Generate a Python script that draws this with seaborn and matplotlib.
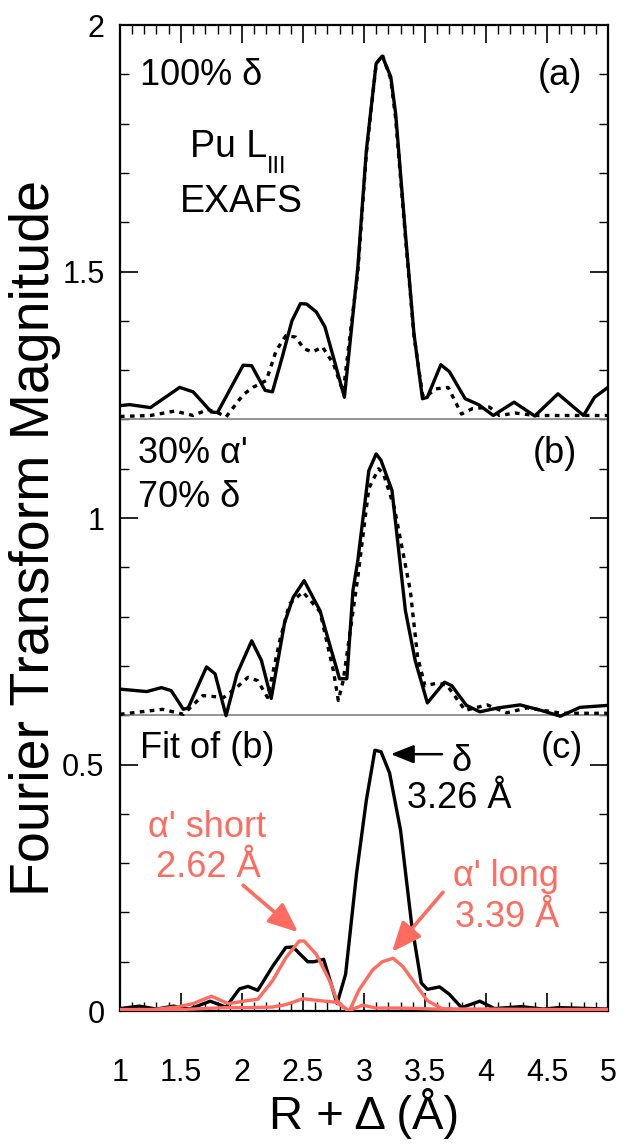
import numpy as np
import pandas as pd
import matplotlib
matplotlib.use("Agg")
import matplotlib.pyplot as plt
from matplotlib.ticker import MultipleLocator
import seaborn as sns

sns.set_theme(style="ticks")
plt.rcParams['font.family'] = ['Liberation Sans', 'DejaVu Sans']
plt.rcParams['text.color'] = 'black'
plt.rcParams['axes.labelcolor'] = 'black'
plt.rcParams['xtick.color'] = 'black'
plt.rcParams['ytick.color'] = 'black'

RED = '#ff6b5f'

# panel (a): 100% delta, data (solid) and fit (dotted)
a_x = [1.0, 1.08, 1.25, 1.49, 1.6, 1.75, 1.8, 2.01, 2.08, 2.19, 2.25, 2.33, 2.41, 2.48, 2.53,
       2.61, 2.68, 2.75, 2.84, 2.95, 3.02, 3.10, 3.15, 3.22, 3.26, 3.34, 3.41, 3.48, 3.52,
       3.63, 3.70, 3.83, 3.94, 4.06, 4.23, 4.40, 4.59, 4.80, 4.89, 5.0]
a_y = [1.228, 1.23, 1.224, 1.265, 1.256, 1.215, 1.214, 1.31, 1.309, 1.259, 1.256, 1.326, 1.40,
       1.435, 1.434, 1.418, 1.388, 1.326, 1.245, 1.509, 1.746, 1.922, 1.937, 1.895, 1.82,
       1.577, 1.374, 1.242, 1.245, 1.311, 1.297, 1.242, 1.23, 1.208, 1.235, 1.207, 1.252,
       1.208, 1.245, 1.265]
a_fit_x = [1.0, 1.25, 1.45, 1.6, 1.72, 1.8, 1.87, 2.01, 2.09, 2.2, 2.28, 2.36, 2.44, 2.51, 2.58,
           2.66, 2.75, 2.83, 2.95, 3.02, 3.10, 3.15, 3.22, 3.26, 3.34, 3.41, 3.48, 3.50, 3.59,
           3.69, 3.80, 3.89, 4.03, 4.11, 4.24, 4.4, 4.6, 4.8, 5.0]
a_fit_y = [1.206, 1.208, 1.217, 1.208, 1.22, 1.214, 1.205, 1.25, 1.265, 1.279, 1.339, 1.37,
           1.367, 1.343, 1.337, 1.347, 1.313, 1.256, 1.50, 1.74, 1.92, 1.94, 1.89, 1.81, 1.57,
           1.37, 1.25, 1.245, 1.262, 1.265, 1.211, 1.222, 1.225, 1.208, 1.213, 1.208, 1.208,
           1.208, 1.208]

# panel (b): 30% alpha' / 70% delta
b_x = [1.0, 1.22, 1.34, 1.42, 1.52, 1.56, 1.71, 1.78, 1.87, 1.96, 2.08, 2.16, 2.24, 2.35, 2.42,
       2.51, 2.64, 2.75, 2.80, 2.86, 2.91, 2.95, 3.04, 3.10, 3.14, 3.23, 3.34, 3.42, 3.52, 3.66,
       3.72, 3.84, 3.95, 4.1, 4.28, 4.45, 4.61, 4.77, 5.0]
b_y = [0.653, 0.648, 0.656, 0.650, 0.612, 0.615, 0.698, 0.684, 0.599, 0.684, 0.751, 0.711,
       0.634, 0.788, 0.839, 0.873, 0.812, 0.717, 0.674, 0.674, 0.853, 0.914, 1.096, 1.13,
       1.117, 1.056, 0.812, 0.711, 0.625, 0.667, 0.66, 0.62, 0.607, 0.615, 0.621, 0.61,
       0.598, 0.616, 0.62]
b_fit_x = [1.0, 1.35, 1.52, 1.68, 1.85, 1.96, 2.05, 2.13, 2.21, 2.31, 2.39, 2.50, 2.64, 2.75,
           2.79, 2.83, 2.95, 3.04, 3.12, 3.16, 3.25, 3.38, 3.44, 3.50, 3.60, 3.68, 3.83, 4.01,
           4.17, 4.34, 4.62, 5.0]
b_fit_y = [0.602, 0.612, 0.602, 0.640, 0.636, 0.657, 0.677, 0.670, 0.636, 0.751, 0.826, 0.85,
           0.81, 0.69, 0.63, 0.67, 0.88, 1.06, 1.10, 1.09, 1.02, 0.853, 0.718, 0.66, 0.665,
           0.661, 0.61, 0.621, 0.605, 0.615, 0.604, 0.604]

# panel (c): fit of (b), shell contributions
c_x = [1.0, 1.16, 1.30, 1.44, 1.57, 1.74, 1.87, 1.98, 2.05, 2.13, 2.25, 2.36, 2.42, 2.47, 2.54,
       2.59, 2.67, 2.78, 2.85, 2.94, 3.02, 3.09, 3.14, 3.21, 3.30, 3.39, 3.47, 3.52, 3.62,
       3.70, 3.80, 3.95, 4.07, 4.29, 4.47, 4.60, 5.0]
c_y = [0.005, 0.01, 0.004, 0.01, 0.004, 0.02, 0.008, 0.045, 0.05, 0.042, 0.09, 0.129, 0.13,
       0.117, 0.10, 0.10, 0.105, 0.015, 0.075, 0.28, 0.428, 0.529, 0.526, 0.483, 0.367,
       0.178, 0.057, 0.044, 0.049, 0.034, 0.007, 0.02, 0.005, 0.009, 0.004, 0.007, 0.004]
short_x = [1.0, 1.27, 1.46, 1.60, 1.75, 1.89, 2.04, 2.13, 2.25, 2.36, 2.47, 2.51, 2.61, 2.72,
           2.78, 2.87, 2.99, 3.10, 3.3, 3.6, 4.0, 4.5, 5.0]
short_y = [0.003, 0.003, 0.008, 0.015, 0.03, 0.015, 0.021, 0.024, 0.061, 0.108, 0.142, 0.142,
           0.115, 0.061, 0.021, 0.0, 0.012, 0.006, 0.006, 0.004, 0.004, 0.003, 0.003]
long_x = [1.0, 1.5, 1.87, 2.06, 2.25, 2.36, 2.50, 2.64, 2.77, 2.88, 2.96, 3.07, 3.15, 3.24,
          3.32, 3.43, 3.52, 3.64, 3.8, 4.2, 5.0]
long_y = [0.003, 0.003, 0.007, 0.007, 0.008, 0.013, 0.025, 0.021, 0.018, 0.0, 0.043, 0.083,
          0.10, 0.107, 0.09, 0.052, 0.021, 0.005, 0.003, 0.003, 0.003]

panel_bounds = [0.6, 1.2]

fig = plt.figure(figsize=(6.31, 11.48), dpi=100)
ax = fig.add_axes([0.190, 0.1193, 0.7735, 0.8589])

for yb in panel_bounds:
    ax.axhline(yb, color='#808080', lw=1.2, zorder=1)

sns.lineplot(x=a_x, y=a_y, ax=ax, color='black', linewidth=2.4, zorder=3)
sns.lineplot(x=a_fit_x, y=a_fit_y, ax=ax, color='black', linewidth=2.4,
             linestyle=(0, (1.4, 1.6)), zorder=3)
sns.lineplot(x=b_x, y=b_y, ax=ax, color='black', linewidth=2.4, zorder=3)
sns.lineplot(x=b_fit_x, y=b_fit_y, ax=ax, color='black', linewidth=2.4,
             linestyle=(0, (1.4, 1.6)), zorder=3)
sns.lineplot(x=c_x, y=c_y, ax=ax, color='black', linewidth=2.4, zorder=3)
sns.lineplot(x=long_x, y=long_y, ax=ax, color=RED, linewidth=2.4, zorder=4)
sns.lineplot(x=short_x, y=short_y, ax=ax, color=RED, linewidth=2.4, zorder=4)

ax.set_xlim(1, 5)
ax.set_ylim(0, 2)
ax.xaxis.set_minor_locator(MultipleLocator(0.1))
ax.yaxis.set_minor_locator(MultipleLocator(0.1))
ax.set_xticks([1, 1.5, 2, 2.5, 3, 3.5, 4, 4.5, 5])
ax.set_xticklabels(['1', '1.5', '2', '2.5', '3', '3.5', '4', '4.5', '5'])
ax.set_yticks([0, 0.5, 1, 1.5, 2])
ax.set_yticklabels(['0', '0.5', '1', '1.5', '2'])
ax.tick_params(which='both', direction='in', top=True, right=True, color='black')
ax.tick_params(which='major', length=13, width=1.2, labelsize=22)
ax.tick_params(which='minor', length=6.5, width=1.0)
ax.tick_params(axis='x', which='major', pad=34)
ax.tick_params(axis='y', which='major', pad=11)
for s in ax.spines.values():
    s.set_linewidth(1.6)
    s.set_color('black')

ax.set_xlabel('R + Δ (Å)', fontsize=34)
ax.xaxis.label.set_va('center')
ax.xaxis.set_label_coords(0.5, -0.104)
ax.set_ylabel('Fourier Transform Magnitude', fontsize=40)
ax.yaxis.label.set_va('center')
ax.yaxis.set_label_coords(-0.174, 0.48)

fs = 26
ax.text(1.164, 1.878, '100% δ', fontsize=fs)
ax.text(4.787, 1.878, '(a)', fontsize=fs, ha='right')
ax.text(1.574, 1.732, 'Pu L', fontsize=27)
ax.text(2.205, 1.700, 'III', fontsize=17)
ax.text(1.49, 1.621, 'EXAFS', fontsize=27)

ax.text(1.148, 1.112, "30% α'", fontsize=fs)
ax.text(1.148, 1.022, '70% δ', fontsize=fs)
ax.text(4.746, 1.112, '(b)', fontsize=fs, ha='right')

ax.text(1.164, 0.513, 'Fit of (b)', fontsize=fs)
ax.text(4.795, 0.513, '(c)', fontsize=fs, ha='right')
ax.text(3.72, 0.487, 'δ', fontsize=fs)
ax.text(3.353, 0.412, '3.26 Å', fontsize=fs)
ax.annotate('', xy=(3.22, 0.521), xytext=(3.64, 0.521),
            arrowprops=dict(arrowstyle='-|>,head_length=0.7,head_width=0.28',
                            color='black', lw=1.8, mutation_scale=20,
                            shrinkA=0, shrinkB=0))

ax.text(1.23, 0.353, "α' short", fontsize=fs, color=RED)
ax.text(1.30, 0.272, '2.62 Å', fontsize=fs, color=RED)
ax.annotate('', xy=(2.46, 0.160), xytext=(2.01, 0.255),
            arrowprops=dict(arrowstyle='-|>,head_length=0.9,head_width=0.38',
                            color=RED, lw=2.6, mutation_scale=20,
                            shrinkA=0, shrinkB=0))

ax.text(3.73, 0.254, "α' long", fontsize=fs, color=RED)
ax.text(3.746, 0.170, '3.39 Å', fontsize=fs, color=RED)
ax.annotate('', xy=(3.23, 0.120), xytext=(3.648, 0.241),
            arrowprops=dict(arrowstyle='-|>,head_length=0.9,head_width=0.38',
                            color=RED, lw=2.6, mutation_scale=20,
                            shrinkA=0, shrinkB=0))

fig.savefig('out.png', dpi=100)
